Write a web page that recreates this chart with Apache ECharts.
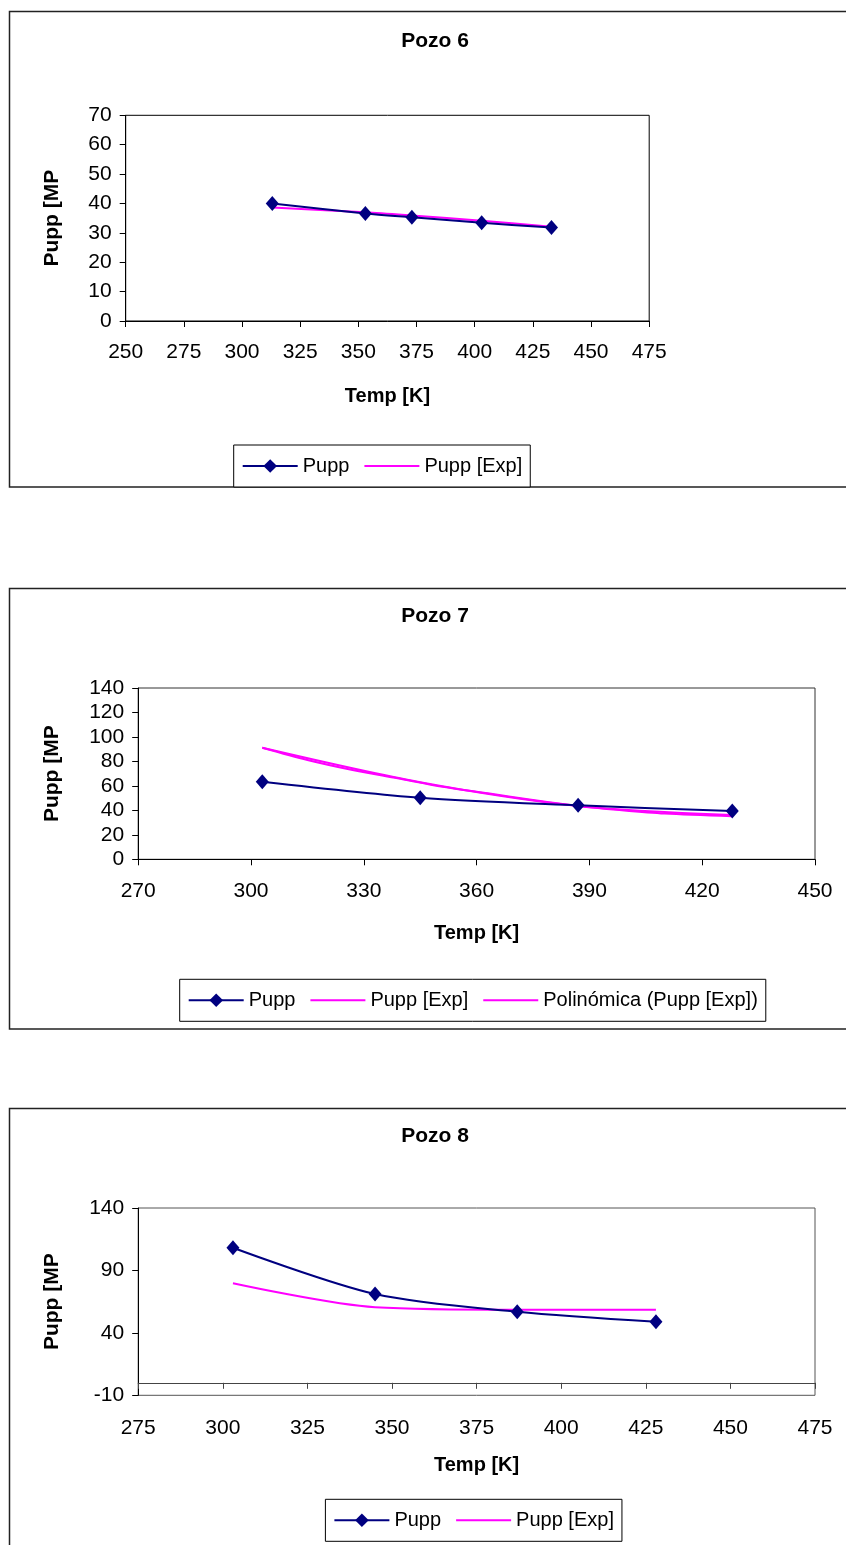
<!DOCTYPE html>
<html>
<head>
<meta charset="utf-8">
<title>Pupp vs Temp — Pozos 6, 7, 8</title>
<script src="https://cdn.jsdelivr.net/npm/echarts@6/dist/echarts.min.js"></script>
<style>
  html, body { margin: 0; padding: 0; background: #fff; }
  #chart { width: 846px; height: 1545px; }
</style>
</head>
<body>
<div id="chart"></div>
<script>
// ---- Pozo 6 ----
const pozo6Temp = [313, 353, 373, 403, 433];
const pozo6Pupp = [40.0, 36.6, 35.3, 33.4, 31.8];
const pozo6Exp  = [38.6, 37.0, 35.9, 34.1, 32.1];
const pozo6XTicks = [250, 275, 300, 325, 350, 375, 400, 425, 450, 475];
const pozo6YTicks = [0, 10, 20, 30, 40, 50, 60, 70];

// ---- Pozo 7 ----
const pozo7Temp = [303, 345, 387, 428];
const pozo7Pupp = [63.4, 50.3, 44.1, 39.5];
const pozo7Exp  = [91.2, 63.0, 43.6, 36.2];
const pozo7TrendTemp = [303, 315, 327, 339, 351, 363, 375, 387, 398, 410, 428];
const pozo7Trend     = [91.2, 81.2, 73.0, 66.2, 59.3, 53.9, 48.5, 43.6, 40.3, 37.4, 35.2];
const pozo7XTicks = [270, 300, 330, 360, 390, 420, 450];
const pozo7YTicks = [0, 20, 40, 60, 80, 100, 120, 140];

// ---- Pozo 8 ----
const pozo8Temp = [303, 345, 387, 428];
const pozo8Pupp = [108.2, 71.1, 56.9, 48.9];
const pozo8Exp  = [79.7, 60.5, 58.5, 58.5];
const pozo8XTicks = [275, 300, 325, 350, 375, 400, 425, 450, 475];
const pozo8YTicks = [-10, 40, 90, 140];

const titles = ['Pozo 6', 'Pozo 7', 'Pozo 8'];
const xName = 'Temp [K]';
const yName = 'Pupp [MP';
const nameSeriesCalc = 'Pupp';
const nameSeriesExp = 'Pupp [Exp]';
const nameTrend = 'Polinómica (Pupp [Exp])';

const FONT = "'Liberation Sans', Arial, sans-serif";
const NAVY = '#000080';
const MAGENTA = '#FF00FF';

const zip = (xs, ys) => xs.map((x, i) => [x, ys[i]]);
const range = t => ({ min: t[0], max: t[t.length - 1], interval: t[1] - t[0] });

function xAxisFor(gridIndex, ticks, labelMargin, nameGap, onZero) {
  return Object.assign({
    type: 'value', gridIndex,
    name: xName, nameLocation: 'middle', nameGap,
    nameTextStyle: { fontFamily: FONT, fontSize: 20, fontWeight: 'bold', color: '#000' },
    axisLine: { show: true, onZero: !!onZero, lineStyle: { color: onZero ? '#444' : '#000', width: 1 } },
    axisTick: { show: true, length: 6, lineStyle: { color: onZero ? '#444' : '#000' } },
    axisLabel: { fontFamily: FONT, fontSize: 21, color: '#000', margin: labelMargin },
    splitLine: { show: false }
  }, range(ticks));
}

function yAxisFor(gridIndex, ticks, nameGap) {
  return Object.assign({
    type: 'value', gridIndex,
    name: yName, nameLocation: 'middle', nameGap,
    nameTextStyle: { fontFamily: FONT, fontSize: 21, fontWeight: 'bold', color: '#000' },
    axisLine: { show: true, onZero: false, lineStyle: { color: '#000', width: 1 } },
    axisTick: { show: true, length: 6, lineStyle: { color: '#000' } },
    axisLabel: { fontFamily: FONT, fontSize: 21, color: '#000', margin: 14 },
    splitLine: { show: false }
  }, range(ticks));
}

function calcSeries(idx, temp, vals) {
  return {
    name: nameSeriesCalc, type: 'line', xAxisIndex: idx, yAxisIndex: idx,
    data: zip(temp, vals), smooth: 0.3,
    symbol: 'diamond', symbolSize: [13, 15],
    lineStyle: { color: NAVY, width: 2 }, itemStyle: { color: NAVY },
    z: 3
  };
}

function expSeries(idx, temp, vals, name) {
  return {
    name: name || nameSeriesExp, type: 'line', xAxisIndex: idx, yAxisIndex: idx,
    data: zip(temp, vals), smooth: 0.3,
    symbol: 'none', showSymbol: false,
    lineStyle: { color: MAGENTA, width: 2 }, itemStyle: { color: MAGENTA },
    z: 2
  };
}

// legend entries for plain lines carry no marker
const lineOnly = name => ({ name, itemStyle: { opacity: 0 } });

function legendFor(left, top, names) {
  return {
    left, top, orient: 'horizontal', selectedMode: false,
    data: names,
    backgroundColor: '#fff', borderColor: '#000', borderWidth: 1,
    padding: [11, 8], itemWidth: 55, itemHeight: 17, itemGap: 14,
    textStyle: { fontFamily: FONT, fontSize: 20, color: '#000' }
  };
}

function frame(y, h) {
  return { type: 'rect', shape: { x: 9.5, y, width: 900, height: h },
           style: { fill: 'none', stroke: '#222', lineWidth: 1.5 }, z: 0 };
}
function titleText(text, y) {
  return { type: 'text', x: 435, y, z: 5,
           style: { text, fontFamily: FONT, fontSize: 21, fontWeight: 'bold', fill: '#000',
                    align: 'center', verticalAlign: 'middle' } };
}

const chart = echarts.init(document.getElementById('chart'), null, { renderer: 'canvas' });

chart.setOption({
  animation: false,
  backgroundColor: '#fff',
  graphic: [
    frame(11.5, 475.5),
    frame(588.5, 440.5),
    frame(1108.5, 600),
    titleText(titles[0], 41),
    titleText(titles[1], 616),
    titleText(titles[2], 1136)
  ],
  grid: [
    { left: 125.7, top: 115.3, width: 523.5, height: 205.7, show: true, borderColor: '#000', borderWidth: 1, containLabel: false },
    { left: 138.2, top: 688, width: 676.8, height: 171.3, show: true, borderColor: '#333', borderWidth: 1, containLabel: false },
    { left: 138.2, top: 1208, width: 676.8, height: 187.3, show: true, borderColor: '#555', borderWidth: 1, containLabel: false }
  ],
  xAxis: [
    xAxisFor(0, pozo6XTicks, 21, 65, false),
    xAxisFor(1, pozo7XTicks, 21, 64, false),
    xAxisFor(2, pozo8XTicks, 22, 60, true)
  ],
  yAxis: [
    yAxisFor(0, pozo6YTicks, 63),
    yAxisFor(1, pozo7YTicks, 75),
    yAxisFor(2, pozo8YTicks, 75)
  ],
  legend: [
    legendFor(233.7, 445, [nameSeriesCalc, lineOnly(nameSeriesExp)]),
    legendFor(179.7, 979.3, [nameSeriesCalc, lineOnly(nameSeriesExp), lineOnly(nameTrend)]),
    legendFor(325.4, 1499.3, [nameSeriesCalc, lineOnly(nameSeriesExp)])
  ],
  series: [
    calcSeries(0, pozo6Temp, pozo6Pupp),
    expSeries(0, pozo6Temp, pozo6Exp),
    calcSeries(1, pozo7Temp, pozo7Pupp),
    expSeries(1, pozo7Temp, pozo7Exp),
    expSeries(1, pozo7TrendTemp, pozo7Trend, nameTrend),
    calcSeries(2, pozo8Temp, pozo8Pupp),
    expSeries(2, pozo8Temp, pozo8Exp)
  ]
});
</script>
</body>
</html>
